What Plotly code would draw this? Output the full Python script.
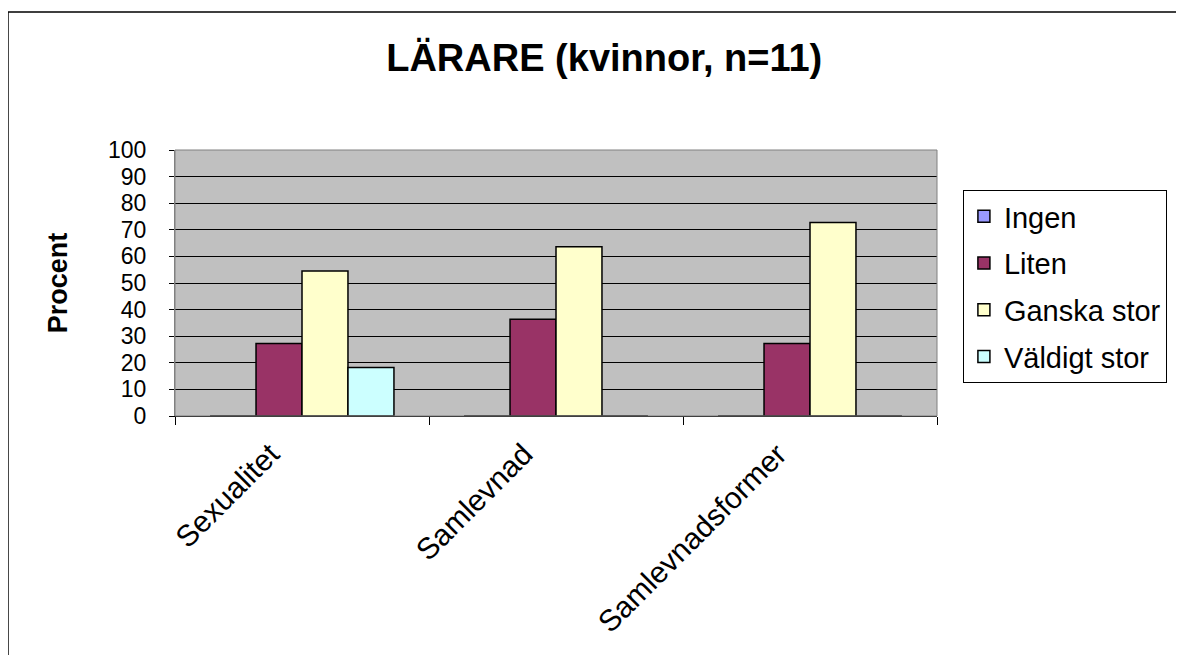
import plotly.graph_objects as go

categories = ["Sexualitet", "Samlevnad", "Samlevnadsformer"]
series_names = ["Ingen", "Liten", "Ganska stor", "Väldigt stor"]
ingen = [0, 0, 0]
liten = [27.3, 36.4, 27.3]
ganska_stor = [54.5, 63.6, 72.7]
valdigt_stor = [18.2, 0, 0]
y_ticks = [0, 10, 20, 30, 40, 50, 60, 70, 80, 90, 100]

colors = ["#9999FF", "#993366", "#FFFFCC", "#CCFFFF"]
values = [ingen, liten, ganska_stor, valdigt_stor]

font = "Liberation Sans, Arial, sans-serif"

fig = go.Figure()
for name, vals, col in zip(series_names, values, colors):
    fig.add_trace(go.Bar(
        x=categories, y=vals, name=name, legendgroup=name,
        marker=dict(color=col, line=dict(color="black", width=1.5)),
    ))

# category labels as rotated annotations so they can sit left of the tick centre
for cat in categories:
    fig.add_annotation(
        x=cat, y=0, xref="x", yref="paper",
        text=cat, showarrow=False, textangle=-45,
        xanchor="right", yanchor="top", xshift=-14, yshift=-18,
        font=dict(size=30, family=font, color="black"),
    )

# page has an 8px body margin, so the figure is a bit smaller than the window
fig.update_layout(
    width=1176, height=647,
    margin=dict(l=167, r=247, t=142, b=239),
    paper_bgcolor="white",
    plot_bgcolor="#C0C0C0",
    barmode="group",
    bargap=0.276,
    bargroupgap=0,
    font=dict(family=font, color="black"),
    title=dict(
        text="<b>LÄRARE (kvinnor, n=11)</b>",
        x=0.507, xanchor="center", y=0.923, yanchor="middle",
        font=dict(size=38, family=font),
    ),
    legend=dict(
        x=1.034, y=0.8496, xanchor="left", yanchor="top",
        bgcolor="white", bordercolor="black", borderwidth=1,
        font=dict(size=29, family=font),
        tracegroupgap=6,
    ),
    xaxis=dict(
        # fixed range, otherwise the annotations widen the autorange
        range=[-0.5, len(categories) - 0.5],
        tickson="boundaries", ticks="outside", ticklen=8, tickcolor="black",
        showticklabels=False, automargin=False,
        showline=True, linecolor="black", linewidth=1,
        mirror=False,
    ),
    yaxis=dict(
        range=[0, 100], tickvals=y_ticks, ticks="outside", ticklen=5,
        tickcolor="black", tickfont=dict(size=23),
        ticklabelstandoff=18, automargin=False,
        showgrid=True, gridcolor="black", gridwidth=1,
        showline=True, linecolor="#808080", linewidth=1,
        title=dict(text="<b>Procent</b>", font=dict(size=27), standoff=32),
        zeroline=False,
    ),
    shapes=[
        # plot area border
        dict(type="rect", xref="paper", yref="paper", x0=0, x1=1, y0=0, y1=1,
             line=dict(color="#808080", width=1), layer="above"),
        # outer chart border
        dict(type="rect", xref="paper", yref="paper",
             x0=-0.2192, x1=1.6, y0=-1.2, y1=1.5188,
             line=dict(color="black", width=1.5)),
    ],
)

fig.write_html("out.html")
